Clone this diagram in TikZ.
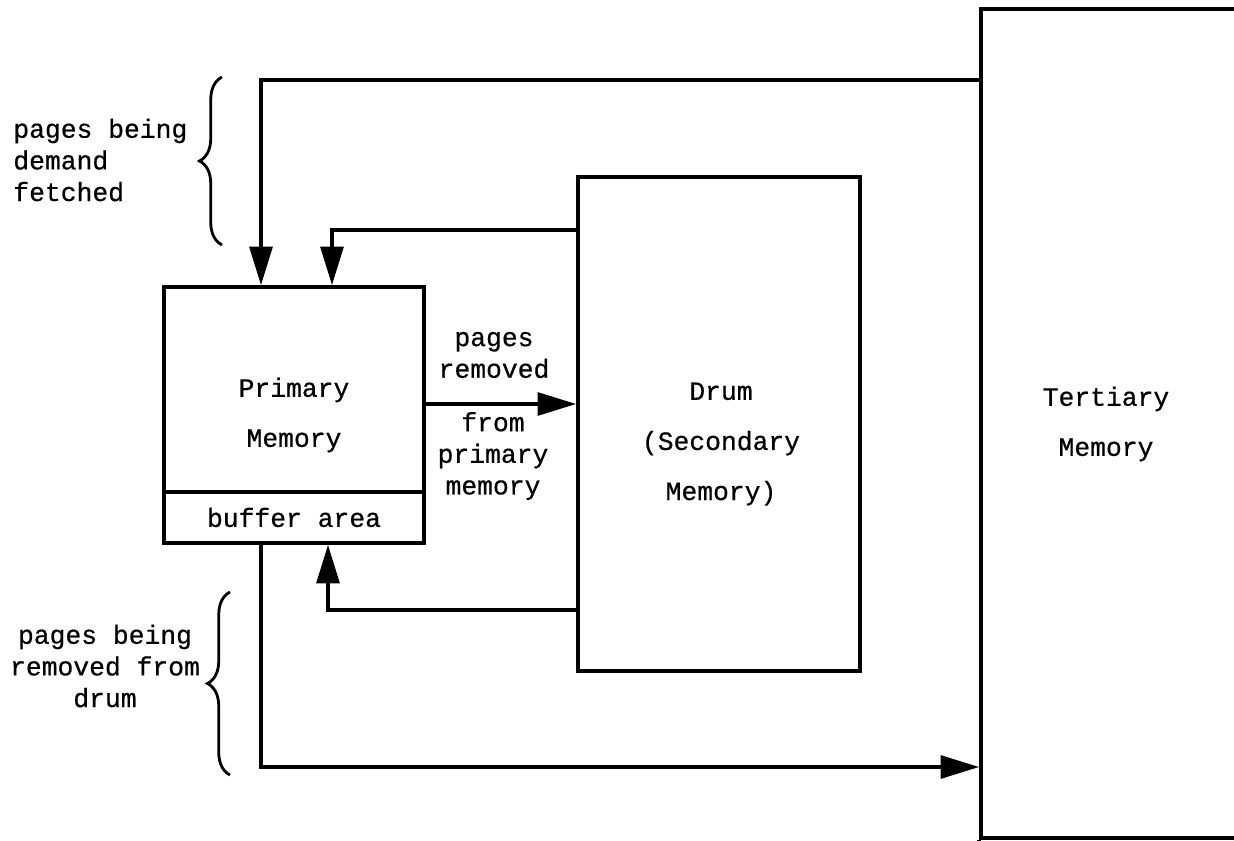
\documentclass[tikz,border=0pt]{standalone}
\usepackage{fontspec}
\setmonofont{Liberation Mono}[FakeBold=0.6]
\usetikzlibrary{arrows.meta,positioning,calc,decorations.pathreplacing}

\begin{document}
\begin{tikzpicture}[
    x=0.02cm, y=-0.02cm,
    box/.style={draw, line width=2.1pt, inner sep=0pt},
    txt/.style={font=\ttfamily\fontsize{15}{28.5}\selectfont, align=center, inner sep=0pt},
    note/.style={font=\ttfamily\fontsize{15}{18}\selectfont, inner sep=0pt},
    arr/.style={-{Triangle[length=22pt, width=13pt]}, line width=2.1pt},
    brc/.style={decorate, decoration={brace, amplitude=0.45cm}, line width=1.6pt}
]
\useasboundingbox (0,0) rectangle (1234,841);

% Memory levels
\node[box, txt, minimum width=5.2cm, minimum height=5.12cm] (prim) at (294,415) {Primary\\Memory};
\node[box, txt, minimum width=5.2cm, minimum height=1.02cm, anchor=south] (buf) at (prim.south) {buffer area};
\node[box, minimum width=5.64cm, minimum height=9.88cm] (drum) at (719,424) {};
\node[txt] (drumlbl) at (721,444) {Drum\\(Secondary\\Memory)};
\node[box, minimum width=5.62cm, minimum height=16.58cm] (tert) at (1121.5,423.5) {};
\node[txt] (tertlbl) at (1106,424) {Tertiary\\Memory};
\draw[line width=2.1pt] (tert.south west) -- ++(0,10);

% Page traffic
\coordinate (inT) at (261,80);
\coordinate (inD) at (332,230);
\coordinate (outP) at (424,404);
\coordinate (backD) at (328,610);
\coordinate (outB) at (261,767);
\draw[arr] (tert.west |- inT) -| (prim.north -| inT);
\draw[arr] (drum.west |- inD) -| (prim.north -| inD);
\draw[arr] (prim.east |- outP) -- (drum.west |- outP);
\draw[arr] (drum.west |- backD) -| (buf.south -| backD);
\draw[arr] (buf.south -| outB) |- (tert.west |- outB);

% Labels
\node[note, align=center] (remlbl) at (494,355) {pages\\removed};
\node[note, align=center] (fromlbl) at (493,456) {from\\primary\\memory};
\node[note, align=left, anchor=west] (fetchlbl) at (13,160) {pages being\\demand\\fetched};
\node[note, align=center] (droplbl) at (105,666) {pages being\\removed from\\drum};
\draw[brc] (222,245) -- (222,77);
\draw[brc] (230,775) -- (230,592);
\end{tikzpicture}
\end{document}
